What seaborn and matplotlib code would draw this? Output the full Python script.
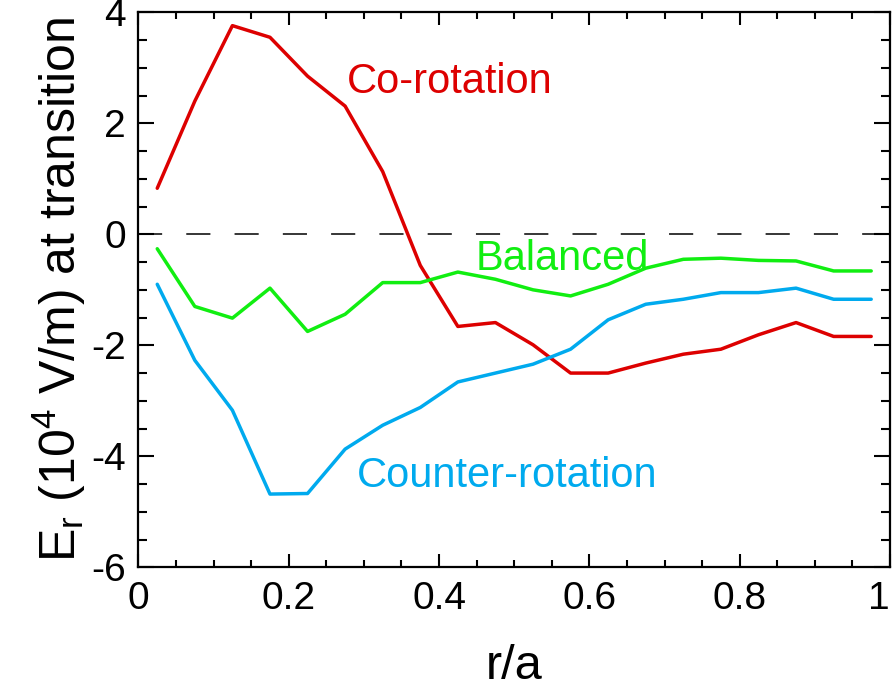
import numpy as np
import pandas as pd
import matplotlib
matplotlib.use("Agg")
import matplotlib.pyplot as plt
import seaborn as sns

# ---- data ----
r_over_a = [0.025, 0.075, 0.125, 0.175, 0.225, 0.275, 0.325, 0.375, 0.425, 0.475,
            0.525, 0.575, 0.625, 0.675, 0.725, 0.775, 0.825, 0.875, 0.925, 0.975]
co_rotation = [0.83, 2.40, 3.76, 3.55, 2.85, 2.31, 1.13, -0.56, -1.66, -1.59,
               -1.99, -2.50, -2.50, -2.32, -2.16, -2.07, -1.81, -1.59, -1.84, -1.84]
balanced = [-0.26, -1.30, -1.51, -0.97, -1.75, -1.44, -0.87, -0.87, -0.68, -0.81,
            -1.00, -1.11, -0.90, -0.61, -0.45, -0.43, -0.47, -0.48, -0.66, -0.66]
counter_rotation = [-0.90, -2.27, -3.17, -4.68, -4.67, -3.87, -3.44, -3.12, -2.66, -2.50,
                    -2.34, -2.07, -1.54, -1.26, -1.17, -1.05, -1.05, -0.97, -1.17, -1.17]
series_names = ["Co-rotation", "Balanced", "Counter-rotation"]
colors = {"Co-rotation": "#dd0000", "Balanced": "#11ee11", "Counter-rotation": "#00aaee"}
x_ticks = [0, 0.2, 0.4, 0.6, 0.8, 1]
x_tick_labels = ["0", "0.2", "0.4", "0.6", "0.8", "1"]
y_ticks = [-6, -4, -2, 0, 2, 4]
y_tick_labels = ["-6", "-4", "-2", "0", "2", "4"]

df = pd.concat([
    pd.DataFrame({"r/a": r_over_a, "Er": vals, "case": name})
    for name, vals in zip(series_names, [co_rotation, balanced, counter_rotation])
], ignore_index=True)

sns.set_style("ticks")
plt.rcParams["font.family"] = ["Liberation Sans", "DejaVu Sans"]
plt.rcParams["mathtext.fontset"] = "custom"
plt.rcParams["mathtext.rm"] = "Liberation Sans"
plt.rcParams["mathtext.it"] = "Liberation Sans"
plt.rcParams["text.color"] = "black"
plt.rcParams["axes.labelcolor"] = "black"
plt.rcParams["xtick.color"] = "black"
plt.rcParams["ytick.color"] = "black"

fig = plt.figure(figsize=(8.95, 6.88), dpi=100)
ax = fig.add_axes([0.1547, 0.1754, 0.8397, 0.8067])

# zero reference line
ax.plot([0, 1], [0, 0], color="black", lw=1.1, linestyle=(0, (15.8, 15.8)), zorder=1)

sns.lineplot(data=df, x="r/a", y="Er", hue="case", palette=colors, sort=False,
             linewidth=2.5, legend=False, ax=ax, zorder=3)

ax.set_xlim(0, 1)
ax.set_ylim(-6, 4)
ax.set_xticks(x_ticks)
ax.set_xticklabels(x_tick_labels)
ax.set_yticks(y_ticks)
ax.set_yticklabels(y_tick_labels)
ax.set_xticks(np.arange(0, 1.0001, 0.05), minor=True)
ax.set_yticks(np.arange(-6, 4.0001, 0.5), minor=True)

ax.tick_params(axis="both", which="both", direction="in", top=True, right=True,
               color="black", labelcolor="black", width=1.5)
ax.tick_params(axis="x", which="major", length=9.5, labelsize=28, pad=10)
ax.tick_params(axis="x", which="minor", length=5)
ax.tick_params(axis="y", which="major", length=11.5, labelsize=28, pad=9)
ax.tick_params(axis="y", which="minor", length=6.5)
for s in ax.spines.values():
    s.set_linewidth(1.6)
    s.set_color("black")

# keep the last x tick label inside the figure edge
ax.get_xticklabels()[-1].set_horizontalalignment("right")

ax.set_xlabel("r/a", fontsize=35, labelpad=19, color="black")
ax.set_ylabel(r"$\mathregular{E_r}$ (10$^{\mathregular{4}}$ V/m) at transition",
              fontsize=36, labelpad=2, color="black")

ax.text(0.277, 2.55, "Co-rotation", color=colors["Co-rotation"], fontsize=30,
        ha="left", va="baseline")
ax.text(0.448, -0.64, "Balanced", color=colors["Balanced"], fontsize=30,
        ha="left", va="baseline")
ax.text(0.290, -4.56, "Counter-rotation", color=colors["Counter-rotation"], fontsize=30,
        ha="left", va="baseline")

fig.savefig("out.png", dpi=100)
